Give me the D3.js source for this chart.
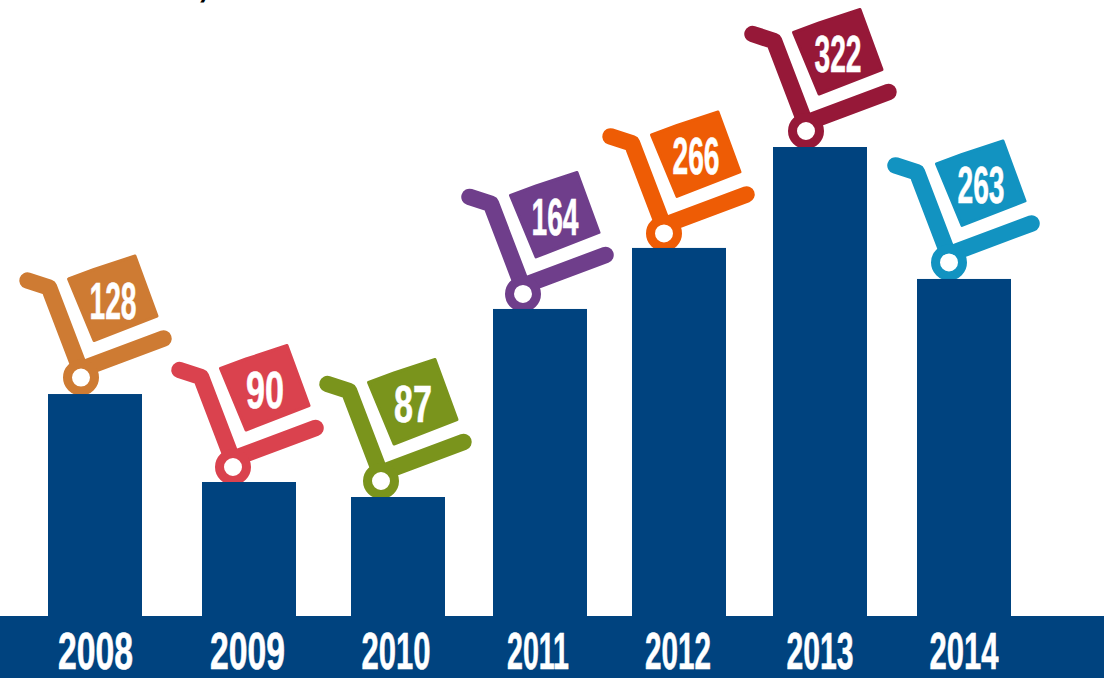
<!DOCTYPE html>
<html>
<head>
<meta charset="utf-8">
<style>
  html, body { margin: 0; padding: 0; background: #fff; }
  svg { display: block; }
  text { font-family: "Liberation Sans Narrow", "Liberation Sans", sans-serif; font-weight: 700; fill: #fff; text-anchor: middle; }
  .heavy { stroke: #fff; stroke-width: 0.6px; }
</style>
<script src="https://cdn.jsdelivr.net/npm/d3@7/dist/d3.min.js"></script>
</head>
<body>
<div id="chart"></div>
<script>
// Data
const years = ['2008', '2009', '2010', '2011', '2012', '2013', '2014']
const cartLabels = [128, 90, 87, 164, 266, 322, 263]
// the bars are not drawn to the printed numbers, these are the heights read off the picture
const barValues = [152.4, 92, 81.7, 210.8, 252.7, 322, 231.4]
const cartColors = ['#ce7b33', '#da424e', '#7a941c', '#6f3e8b', '#ee5c05', '#961838', '#1293c1']

const dimensions = { width: 1115, height: 678, stripWidth: 1104, baseline: 616, barWidth: 94 }
const barBlue = '#00437f'

// the columns are not evenly spaced in the original
const xScale = d3.scaleOrdinal().domain(years).range([95, 249, 398, 540, 679, 820, 964])
const yScale = d3.scaleLinear().domain([0, 322]).range([dimensions.baseline, 147])

// tweaks per column
const cartShift = [-14, -16, -17, -17, -15, -14, -15]
const cartDrop = [0, 1.5, 0.5, 1.5, 2, 0.5, 0]
const yearShift = [0.5, -1.5, -2, -2, -1, 0, 0]
const yearWidth = [75, 75, 69, 62, 66, 67, 69]
const labelWidth = { 2: 38, 3: 47 }

const svg = d3.select('#chart')
  .append('svg')
  .attr('width', dimensions.width)
  .attr('height', dimensions.height)

// tail of the cropped headline at the top edge
svg.append('text')
  .attr('x', 203)
  .attr('y', -4)
  .style('fill', '#000')
  .style('font-size', '40px')
  .text(',')

// Carts, local origin is the wheel centre
const handleLine = d3.line().curve(d3.curveLinear)
const handle = handleLine([[-53.5, -97], [-32, -90], [-3, -14]])
const base = handleLine([[-3, -7], [82.5, -39]])
const box = handleLine([[-12.5, -98.5], [13, -108], [54, -121.5], [76, -61.5], [13, -37]]) + 'Z'

const carts = svg.append('g')
  .selectAll('g')
  .data(years)
  .join('g')
  .attr('transform', (d, i) => `translate(${xScale(d) + cartShift[i]}, ${yScale(barValues[i]) - 16.5 + cartDrop[i]})`)

carts.append('path')
  .attr('d', handle)
  .attr('fill', 'none')
  .attr('stroke', (d, i) => cartColors[i])
  .attr('stroke-width', 16.5)
  .attr('stroke-linecap', 'round')
  .attr('stroke-linejoin', 'round')

carts.append('path')
  .attr('d', base)
  .attr('fill', 'none')
  .attr('stroke', (d, i) => cartColors[i])
  .attr('stroke-width', 16.5)
  .attr('stroke-linecap', 'round')

carts.append('path')
  .attr('d', box)
  .attr('fill', (d, i) => cartColors[i])
  .attr('stroke', (d, i) => cartColors[i])
  .attr('stroke-width', 3)
  .attr('stroke-linejoin', 'round')

carts.append('circle')
  .attr('r', 13.5)
  .attr('fill', '#fff')
  .attr('stroke', (d, i) => cartColors[i])
  .attr('stroke-width', 9)

carts.append('text')
  .classed('heavy', true)
  .attr('x', 32)
  .attr('y', -59)
  .style('font-size', '51px')
  .attr('textLength', (d, i) => labelWidth[String(cartLabels[i]).length])
  .attr('lengthAdjust', 'spacingAndGlyphs')
  .text((d, i) => cartLabels[i])

// Bars
svg.append('g')
  .selectAll('rect')
  .data(years)
  .join('rect')
  .attr('x', d => xScale(d) - dimensions.barWidth / 2)
  .attr('y', (d, i) => yScale(barValues[i]))
  .attr('width', dimensions.barWidth)
  .attr('height', (d, i) => dimensions.baseline - yScale(barValues[i]))
  .attr('fill', barBlue)

// Strip with the years
svg.append('rect')
  .attr('x', 0)
  .attr('y', dimensions.baseline)
  .attr('width', dimensions.stripWidth)
  .attr('height', dimensions.height - dimensions.baseline)
  .attr('fill', barBlue)

svg.append('g')
  .selectAll('text')
  .data(years)
  .join('text')
  .classed('heavy', true)
  .attr('x', (d, i) => xScale(d) + yearShift[i])
  .attr('y', 668.5)
  .style('font-size', '51px')
  .attr('textLength', (d, i) => yearWidth[i])
  .attr('lengthAdjust', 'spacingAndGlyphs')
  .text(d => d)
</script>
</body>
</html>
